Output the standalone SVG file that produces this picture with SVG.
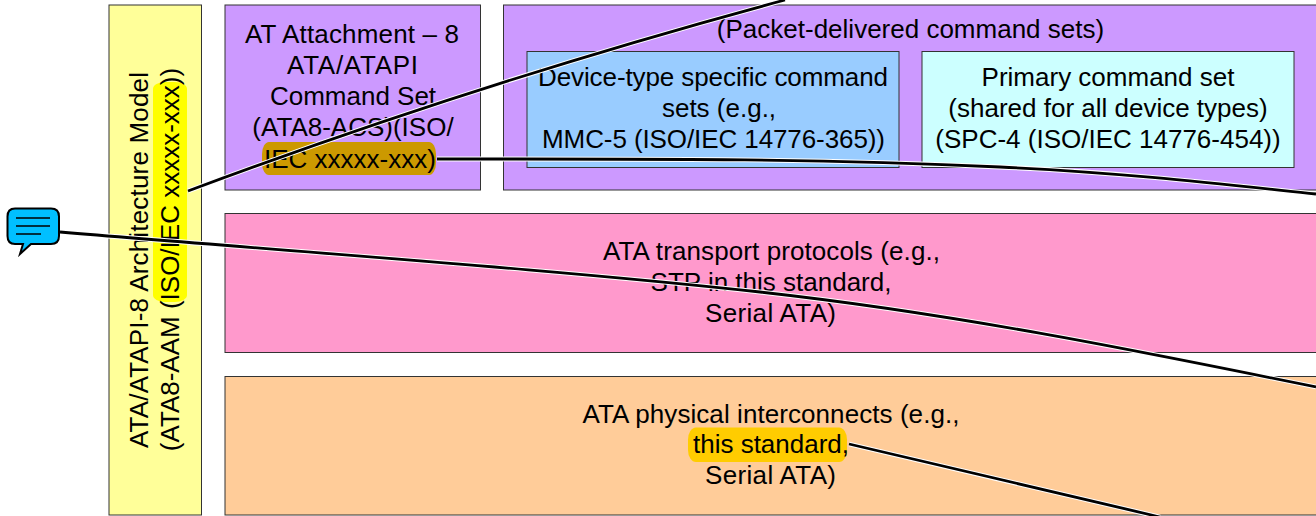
<svg xmlns="http://www.w3.org/2000/svg" width="1316" height="516" viewBox="0 0 1316 516">
<style>
.b{stroke:#333;stroke-width:1}
text{font-family:"Liberation Sans",Arial,sans-serif;font-size:26px;fill:#000;text-anchor:middle}
.h{fill:none;stroke:#fff;stroke-width:4.800}
.k{fill:none;stroke:#000;stroke-width:2.800}
.i{fill:none;stroke:#000;stroke-width:1.500}
</style>
<rect width="1316" height="516" fill="#fff"/>
<g id="architecture-model">
<rect class="b" x="109" y="5" width="92.500" height="510" fill="#ffff99"/>
<rect x="153" y="82" width="34" height="220" rx="12" ry="7" fill="#ffff00"/>
<text transform="translate(148,260) rotate(-90)" textLength="376">ATA/ATAPI-8 Architecture Model</text>
<text transform="translate(179,259.500) rotate(-90)">(ATA8-AAM (ISO/IEC xxxxx-xxx))</text>
</g>
<g id="ata8-acs">
<rect class="b" x="225" y="5" width="255.500" height="185" fill="#cc99ff"/>
<rect x="262" y="142" width="174" height="33" rx="7" ry="12" fill="#cc9900"/>
<text x="352" y="43" textLength="214">AT Attachment – 8</text>
<text x="352.500" y="74" textLength="131">ATA/ATAPI</text>
<text x="353" y="105">Command Set</text>
<text x="353" y="136">(ATA8-ACS)(ISO/</text>
<text x="350" y="168">IEC xxxxx-xxx)</text>
</g>
<g id="packet-delivered">
<rect class="b" x="503.500" y="5" width="830" height="185" fill="#cc99ff"/>
<text x="910.500" y="38">(Packet-delivered command sets)</text>
</g>
<g id="device-type">
<rect class="b" x="527" y="51.500" width="372" height="116" fill="#99ccff"/>
<text x="713" y="86" textLength="350">Device-type specific command</text>
<text x="719" y="117">sets (e.g.,</text>
<text x="713.500" y="148" textLength="343">MMC-5 (ISO/IEC 14776-365))</text>
</g>
<g id="primary">
<rect class="b" x="922" y="51.500" width="372" height="116" fill="#ccffff"/>
<text x="1108" y="86">Primary command set</text>
<text x="1108" y="117">(shared for all device types)</text>
<text x="1108" y="148">(SPC-4 (ISO/IEC 14776-454))</text>
</g>
<g id="transport">
<rect class="b" x="225" y="213.500" width="1110" height="139" fill="#ff99cc"/>
<text x="771.500" y="260" textLength="337">ATA transport protocols (e.g.,</text>
<text x="771" y="291">STP in this standard,</text>
<text x="770.500" y="322" textLength="131">Serial ATA)</text>
</g>
<g id="physical">
<rect class="b" x="225" y="376.500" width="1110" height="138.500" fill="#ffcc99"/>
<rect x="688" y="427.500" width="159" height="34.500" rx="8" ry="12" fill="#ffcc00"/>
<text x="771" y="423" textLength="377">ATA physical interconnects (e.g.,</text>
<text x="771" y="453">this standard,</text>
<text x="770.500" y="484" textLength="131">Serial ATA)</text>
</g>
<g id="connectors">
<path class="h" d="M188,191 Q480,82 785,0"/>
<path class="h" d="M437,159 C640,159 800,158 1000,167 C1130,173 1230,185 1316,194"/>
<path class="h" d="M60,232 C300,252 560,270 760,292 C950,313 1130,349 1316,387"/>
<path class="h" d="M849,444 L1160,517"/>
<path class="k" d="M188,191 Q480,82 785,0"/>
<path class="k" d="M437,159 C640,159 800,158 1000,167 C1130,173 1230,185 1316,194"/>
<path class="k" d="M60,232 C300,252 560,270 760,292 C950,313 1130,349 1316,387"/>
<path class="k" d="M849,444 L1160,517"/>
</g>
<g id="comment-icon">
<path d="M15,208.500 H51 Q59,208.500 59,216.500 V236 Q59,244 51,244 H31 L20,254 L23,244 H15 Q7.500,244 7.500,236 V216.500 Q7.500,208.500 15,208.500 Z" fill="#00bfff" stroke="#000" stroke-width="2"/>
<path class="i" d="M16,218 H50 M16,226 H50 M16,234 H41"/>
</g>
</svg>
